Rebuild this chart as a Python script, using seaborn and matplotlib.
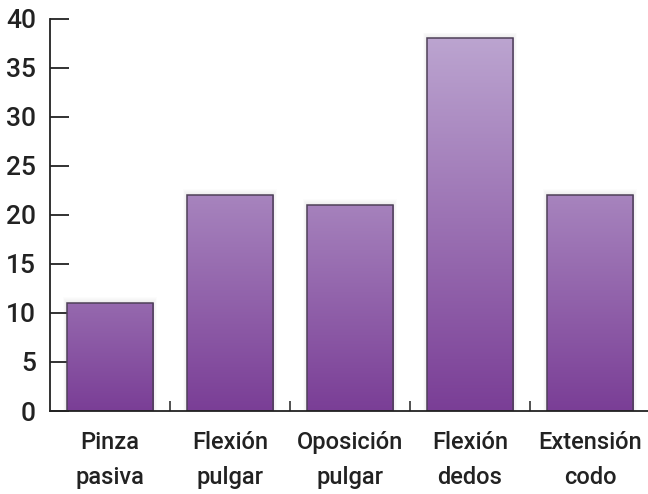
import numpy as np
import pandas as pd
import seaborn as sns
from matplotlib import pyplot as plt
from matplotlib.colors import LinearSegmentedColormap, to_rgb

categories = ["Pinza\npasiva", "Flexión\npulgar", "Oposición\npulgar",
              "Flexión\ndedos", "Extensión\ncodo"]
values = [11, 22, 21, 38, 22]
y_ticks = [0, 5, 10, 15, 20, 25, 30, 35, 40]

dark = np.array(to_rgb("#7a3e96"))
light = np.array(to_rgb("#bea8d2"))

sns.set_style("white")
plt.rcParams['font.family'] = ['Roboto', 'DejaVu Sans']

my_dpi = 100
fig = plt.figure(figsize=(648 / my_dpi, 494 / my_dpi), dpi=my_dpi)
ax = fig.add_axes([0.077, 0.168, 0.926, 0.794])

df = pd.DataFrame({"cat": categories, "val": values})
sns.barplot(data=df, x="cat", y="val", ax=ax, width=0.72,
            color="#7a3e96", edgecolor="#4e4058", linewidth=1.1)

# vertical gradient in every bar, lighter top for taller bars
for bar, v in zip(ax.patches, values):
    t = (v / 40) ** 0.7
    top = dark + t * (light - dark)
    cmap = LinearSegmentedColormap.from_list("g", [dark, top])
    x0 = bar.get_x()
    w = bar.get_width()
    grad = np.linspace(0, 1, 256).reshape(-1, 1)
    im = ax.imshow(grad, cmap=cmap, origin="lower", aspect="auto",
                   extent=[x0, x0 + w, 0, v], zorder=bar.get_zorder() + 0.1,
                   interpolation="bicubic")
    im.set_clip_path(bar)
    bar.set_facecolor("none")
    bar.set_zorder(bar.get_zorder() + 0.2)
    # soft shadow
    for k in range(1, 7):
        dx = k * 0.005
        ax.add_patch(plt.Rectangle((x0 - dx, 0), w + 2 * dx, v + k * 0.1,
                                   color="black", alpha=0.012, lw=0,
                                   zorder=0.5))

ax.set_xlim(-0.5, 4.5)
ax.set_ylim(0, 40)
ax.set_yticks(y_ticks)
ax.set_yticklabels([str(t) for t in y_ticks], fontweight="medium")
ax.set_xticks([0.5, 1.5, 2.5, 3.5])
ax.set_xticklabels([])
for i, c in enumerate(categories):
    ax.text(i, -2.0, c, ha="center", va="top", fontsize=17,
            fontweight="medium", color="#222222", linespacing=1.7)
ax.set_xlabel("")
ax.set_ylabel("")

sns.despine(ax=ax, top=True, right=True)
for s in ["left", "bottom"]:
    ax.spines[s].set_color("#222222")
    ax.spines[s].set_linewidth(1.3)
ax.spines["left"].set_zorder(5)

ax.tick_params(axis="y", left=True, direction="in", length=14, width=1.3,
               color="#222222", labelsize=19, labelcolor="#222222", pad=10)
ax.tick_params(axis="x", bottom=True, direction="in", length=7, width=1.1,
               color="#222222")

plt.savefig("out.png", dpi=my_dpi)
